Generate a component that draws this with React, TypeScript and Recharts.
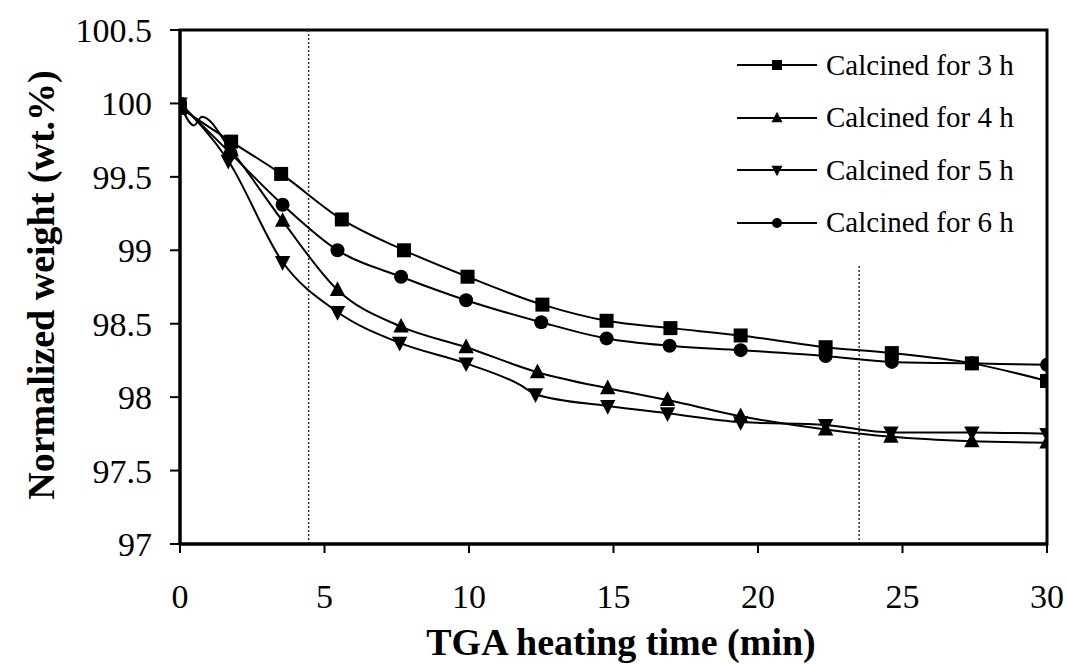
import React from 'react';
import {
  LineChart,
  Line,
  XAxis,
  YAxis,
  ReferenceLine,
  ReferenceArea,
} from 'recharts';

// TGA heating time (min) / normalized weight (wt.%) for each calcination time
const T3 = [0, 1.77, 3.5, 5.6, 7.75, 9.95, 12.54, 14.76, 16.97, 19.4, 22.34, 24.63, 27.4, 30];
const W3 = [99.97, 99.74, 99.52, 99.21, 99.0, 98.82, 98.63, 98.52, 98.47, 98.42, 98.34, 98.3, 98.23, 98.11];

const T4 = [0, 0.48, 0.76, 1.77, 3.55, 5.45, 7.65, 9.9, 12.37, 14.8, 16.87, 19.4, 22.34, 24.6, 27.4, 30];
const W4 = [100, 99.85, 99.91, 99.68, 99.2, 98.73, 98.48, 98.34, 98.17, 98.06, 97.98, 97.87, 97.78, 97.73, 97.7, 97.69];
const NOMARK4 = [1, 2];

const T5 = [0, 1.67, 3.55, 5.45, 7.6, 9.9, 11.8, 12.3, 14.8, 16.87, 19.4, 22.34, 24.6, 27.4, 30];
const W5 = [100, 99.61, 98.92, 98.58, 98.37, 98.23, 98.08, 98.02, 97.94, 97.89, 97.83, 97.81, 97.76, 97.76, 97.75];
const NOMARK5 = [6];

const T6 = [0, 1.75, 3.55, 5.45, 7.65, 9.9, 12.5, 14.76, 16.94, 19.4, 22.34, 24.63, 27.4, 30];
const W6 = [100, 99.66, 99.31, 99.0, 98.82, 98.66, 98.51, 98.4, 98.35, 98.32, 98.28, 98.24, 98.23, 98.22];

const X_TICKS = [0, 5, 10, 15, 20, 25, 30];
const Y_TICKS = [97, 97.5, 98, 98.5, 99, 99.5, 100, 100.5];
const MARK_LINES = [4.45, 23.5];

const FONT = '"Liberation Serif", "Times New Roman", serif';

type Shape = 'square' | 'up' | 'down' | 'circle';

const SERIES: { key: string; name: string; shape: Shape; t: number[]; w: number[]; hide: number[] }[] = [
  { key: 's3', name: 'Calcined for 3 h', shape: 'square', t: T3, w: W3, hide: [] },
  { key: 's4', name: 'Calcined for 4 h', shape: 'up', t: T4, w: W4, hide: NOMARK4 },
  { key: 's5', name: 'Calcined for 5 h', shape: 'down', t: T5, w: W5, hide: NOMARK5 },
  { key: 's6', name: 'Calcined for 6 h', shape: 'circle', t: T6, w: W6, hide: [] },
];

function marker(shape: Shape, cx: number, cy: number, s: number, key?: string) {
  if (shape === 'square') return <rect key={key} x={cx - s} y={cy - s} width={s * 2} height={s * 2} fill="#000" />;
  if (shape === 'circle') return <circle key={key} cx={cx} cy={cy} r={s} fill="#000" />;
  if (shape === 'up')
    return <path key={key} d={`M${cx},${cy - s * 1.25} L${cx + s * 1.1},${cy + s * 0.85} L${cx - s * 1.1},${cy + s * 0.85} Z`} fill="#000" />;
  return <path key={key} d={`M${cx},${cy + s * 1.25} L${cx + s * 1.1},${cy - s * 0.85} L${cx - s * 1.1},${cy - s * 0.85} Z`} fill="#000" />;
}

function LegendBox() {
  return (
    <div style={{ position: 'absolute', left: 737, top: 39, fontFamily: FONT, fontSize: 29, color: '#000' }}>
      {SERIES.map((s) => (
        <div key={s.key} style={{ display: 'flex', alignItems: 'center', height: 52.5, whiteSpace: 'nowrap' }}>
          <svg width={80} height={20} style={{ marginRight: 9 }}>
            <line x1={0} y1={10} x2={80} y2={10} stroke="#000" strokeWidth={2} />
            {marker(s.shape, 40, 10, 5)}
          </svg>
          <span>{s.name}</span>
        </div>
      ))}
    </div>
  );
}

const titleStyle = { fontSize: 38, fontWeight: 'bold' as const, fill: '#000', fontFamily: FONT };

export default function App() {
  const tickStyle = { fontSize: 34, fill: '#000', fontFamily: FONT };
  return (
    <div style={{ position: 'absolute', left: 0, top: 0, width: 1067, height: 664, background: '#fff' }}>
      <LineChart width={1067} height={664} margin={{ top: 30, right: 20, left: 0, bottom: 0 }}>
        <XAxis
          type="number"
          dataKey="t"
          domain={[0, 30]}
          ticks={X_TICKS}
          height={120}
          tick={tickStyle}
          tickSize={9}
          tickMargin={31}
          tickLine={{ stroke: '#000', strokeWidth: 2 }}
          axisLine={{ stroke: '#000', strokeWidth: 3 }}
          allowDataOverflow
          label={{
            position: 'insideBottom',
            content: () => (
              <text x={621} y={655} textAnchor="middle" style={titleStyle}>
                TGA heating time (min)
              </text>
            ),
          }}
        />
        <YAxis
          type="number"
          domain={[97, 100.5]}
          ticks={Y_TICKS}
          width={180}
          tick={tickStyle}
          tickSize={10}
          tickMargin={18}
          tickLine={{ stroke: '#000', strokeWidth: 2 }}
          axisLine={{ stroke: '#000', strokeWidth: 3 }}
          allowDataOverflow
          label={{
            position: 'insideLeft',
            content: () => (
              <text x={54} y={285} transform="rotate(-90 54 285)" textAnchor="middle" style={titleStyle}>
                Normalized weight (wt.%)
              </text>
            ),
          }}
        />
        <ReferenceArea x1={0} x2={30} y1={97} y2={100.5} fill="none" stroke="#000" strokeWidth={3} />
        <ReferenceLine x={MARK_LINES[0]} stroke="#333" strokeWidth={1.5} strokeDasharray="2 2" />
        <ReferenceLine
          segment={[
            { x: MARK_LINES[1], y: 97 },
            { x: MARK_LINES[1], y: 98.9 },
          ]}
          stroke="#333"
          strokeWidth={1.5}
          strokeDasharray="2 2"
        />
        {SERIES.map((s) => (
          <Line
            key={s.key}
            data={s.t.map((t, i) => ({ t, w: s.w[i] }))}
            dataKey="w"
            name={s.name}
            type="monotone"
            stroke="#000"
            strokeWidth={2}
            isAnimationActive={false}
            dot={(p: any) =>
              s.hide.includes(p.index) ? (
                <g key={`${s.key}-${p.index}`} />
              ) : (
                marker(s.shape, p.cx, p.cy, 7, `${s.key}-${p.index}`)
              )
            }
            activeDot={false}
          />
        ))}
      </LineChart>
      <LegendBox />
    </div>
  );
}
